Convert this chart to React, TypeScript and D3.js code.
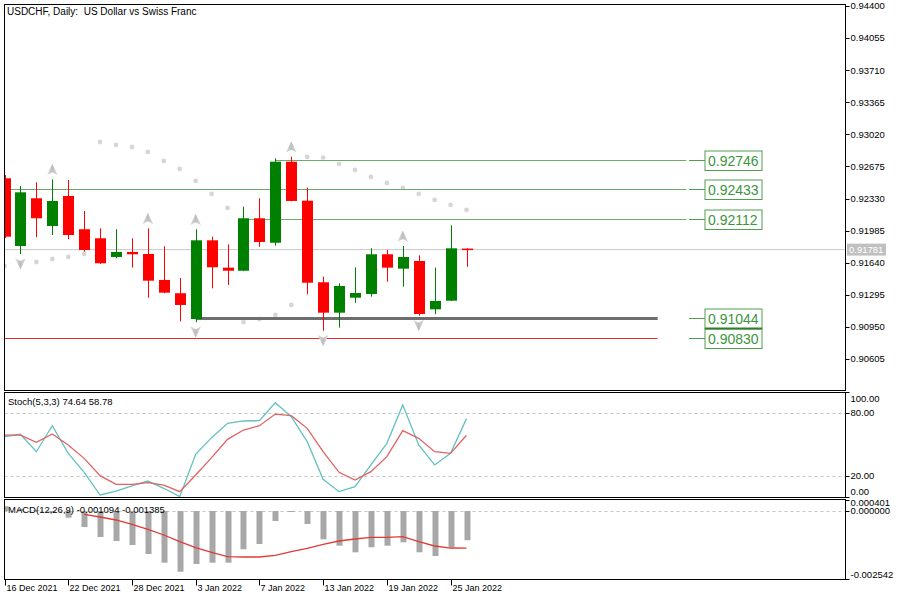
import React from 'react'
import * as d3 from 'd3'

// daily bars, USDCHF
const dates = ['2021-12-16', '2021-12-17', '2021-12-20', '2021-12-21', '2021-12-22', '2021-12-23', '2021-12-24', '2021-12-27', '2021-12-28', '2021-12-29', '2021-12-30', '2021-12-31', '2022-01-03', '2022-01-04', '2022-01-05', '2022-01-06', '2022-01-07', '2022-01-10', '2022-01-11', '2022-01-12', '2022-01-13', '2022-01-14', '2022-01-17', '2022-01-18', '2022-01-19', '2022-01-20', '2022-01-21', '2022-01-24', '2022-01-25', '2022-01-26']
const open = [0.92548, 0.9182, 0.92333, 0.92035, 0.92358, 0.92, 0.91903, 0.91702, 0.91756, 0.91734, 0.91455, 0.91312, 0.91035, 0.91881, 0.91587, 0.91554, 0.92118, 0.91855, 0.92726, 0.92307, 0.9143, 0.91103, 0.91264, 0.91304, 0.91731, 0.91576, 0.91659, 0.91139, 0.91232, 0.91792]
const high = [0.92583, 0.92465, 0.92505, 0.92537, 0.9253, 0.92196, 0.9201, 0.92, 0.91903, 0.9201, 0.91817, 0.91476, 0.92, 0.9192, 0.91838, 0.92242, 0.92333, 0.92763, 0.9278, 0.92447, 0.9149, 0.91419, 0.91591, 0.91795, 0.91777, 0.9182, 0.9172, 0.91587, 0.92042, 0.91795]
const low = [0.91906, 0.91734, 0.91914, 0.91938, 0.91892, 0.91759, 0.91628, 0.91688, 0.91587, 0.91264, 0.91312, 0.9101, 0.91, 0.91365, 0.91401, 0.9155, 0.91812, 0.91823, 0.923, 0.91301, 0.90909, 0.90942, 0.9121, 0.91275, 0.91436, 0.91382, 0.91071, 0.91086, 0.91229, 0.91597]
const close = [0.9192, 0.92397, 0.92118, 0.92304, 0.91938, 0.91777, 0.91634, 0.91756, 0.91731, 0.91447, 0.91318, 0.91186, 0.91881, 0.91591, 0.91554, 0.92118, 0.91863, 0.92726, 0.92304, 0.91425, 0.91103, 0.9139, 0.91315, 0.91731, 0.91587, 0.91702, 0.91089, 0.91229, 0.91795, 0.91781]
const sar = [0.91605, 0.91627, 0.91648, 0.9168, 0.91702, 0.91734, 0.92938, 0.92906, 0.92884, 0.92831, 0.92734, 0.92648, 0.92519, 0.92379, 0.92229, 0.91003, 0.91035, 0.91078, 0.91186, 0.92777, 0.9277, 0.92702, 0.92637, 0.92562, 0.92497, 0.92444, 0.92379, 0.92315, 0.92261, 0.92207]
const fractalUp = ['2021-12-21', '2021-12-29', '2022-01-03', '2022-01-11', '2022-01-20']
const fractalDown = ['2021-12-17', '2022-01-03', '2022-01-13', '2022-01-21']

const stochK = [57.4, 59.7, 43.1, 67.9, 41.6, 23.5, 1.9, 5.7, 10.5, 15.2, 8.3, 0.3, 40.6, 56.5, 70.2, 72.4, 72.7, 89.8, 76.5, 52.7, 16.8, 5.1, 9.8, 30.5, 51.1, 87.6, 49.5, 30.5, 41.6, 74.64]
const stochD = [59.0, 59.0, 52.1, 60.0, 49.5, 36.8, 20.3, 12.1, 12.1, 13.7, 11.4, 5.1, 21.0, 37.5, 54.9, 63.8, 67.9, 79.0, 77.5, 65.4, 43.2, 23.5, 16.2, 24.1, 38.4, 63.2, 55.9, 43.2, 41.6, 58.78]

const macdHist = [0.00018, 0.00008, 0.00003, -0.00006, -0.00025, -0.000599, -0.000972, -0.001122, -0.001271, -0.001608, -0.001932, -0.002269, -0.001981, -0.001932, -0.001932, -0.001432, -0.001234, -0.000374, -0.000026, -0.000486, -0.001058, -0.001297, -0.001544, -0.001357, -0.001297, -0.00117, -0.001544, -0.001682, -0.001357, -0.001094]
const macdSignal = [null, null, null, null, null, -0.000124, -0.000224, -0.000336, -0.000499, -0.000685, -0.000897, -0.001146, -0.00137, -0.001544, -0.001707, -0.00172, -0.00172, -0.001657, -0.00152, -0.001396, -0.001246, -0.001122, -0.001047, -0.000984, -0.000984, -0.000959, -0.001146, -0.001308, -0.001384, -0.001385]

const priceTicks = [0.944, 0.94055, 0.9371, 0.93365, 0.9302, 0.92675, 0.9233, 0.91985, 0.9164, 0.91295, 0.9095, 0.90605]
const stochTicks = [100, 80, 20, 0]
const stochLevels = [80, 20]
const macdTicks = [0.000401, 0, -0.002542]

// horizontal levels: price, first bar, last bar (bars past the end are future time)
const levelPrices = [0.92746, 0.92433, 0.92112, 0.91044, 0.9083]
const levelFrom = ['2022-01-10', '2021-12-16', '2022-01-06', '2022-01-03', '2021-12-16']
const levelTo = [42.8, 42.8, 42.8, 41, 41]
const currentPrice = 0.91781

const W = 902
const H = 606
const font = '"Liberation Sans", Arial, sans-serif'
const main = { left: 4.5, right: 845.5, top: 4.5, bottom: 390.5 }
const stoch = { top: 392.5, bottom: 497.5 }
const macd = { top: 499.5, bottom: 579.5 }

const levelStroke = ['#6aae6a', '#6aae6a', '#6aae6a', '#6e6e6e', '#e0312f']
const levelWidth = [1, 1, 1, 3, 1]

export default function App() {
  const idx = (d: string) => dates.indexOf(d)
  const x = d3.scaleLinear().domain([0, dates.length - 1]).range([4.5, 466.5])
  const y = d3.scaleLinear().domain([0.90605, 0.944]).range([359, 6])
  const ys = d3.scaleLinear().domain([0, 100]).range([stoch.bottom - 0.5, stoch.top - 0.5])
  const ym = d3.scaleLinear().domain([-0.002542, 0]).range([579, 511])
  const parse = d3.timeParse('%Y-%m-%d')
  const fmt = d3.timeFormat('%-d %b %Y')

  const kLine = d3.line<number>().x((_, i) => x(i)).y((d) => ys(d))
  const sigLine = d3.line<number | null>()
    .defined((d) => d !== null)
    .x((_, i) => x(i)).y((d) => ym(d as number))

  const upArrow = (cx: number, cy: number) => `M${cx},${cy - 6.5}L${cx + 5.5},${cy + 5}L${cx},${cy + 2}L${cx - 5.5},${cy + 5}Z`
  const downArrow = (cx: number, cy: number) => `M${cx},${cy + 6.5}L${cx + 5.5},${cy - 5}L${cx},${cy - 2}L${cx - 5.5},${cy - 5}Z`

  const lblBoxX = 705
  const lblBoxW = 57

  return (
    <svg width={W} height={H} style={{ position: 'absolute', left: 0, top: 0, background: '#fff' }} fontFamily={font}>
      <defs>
        <clipPath id="cMain"><rect x={main.left} y={main.top} width={main.right - main.left} height={main.bottom - main.top} /></clipPath>
        <clipPath id="cStoch"><rect x={main.left} y={stoch.top} width={main.right - main.left} height={stoch.bottom - stoch.top} /></clipPath>
        <clipPath id="cMacd"><rect x={main.left} y={macd.top} width={main.right - main.left} height={macd.bottom - macd.top} /></clipPath>
        <linearGradient id="arrowGrad" x1="0" y1="0" x2="1" y2="0">
          <stop offset="0" stopColor="#e4e4e4" />
          <stop offset="0.5" stopColor="#bdbdbd" />
          <stop offset="1" stopColor="#e0e0e0" />
        </linearGradient>
      </defs>
      <rect width={W} height={H} fill="#fff" />

      {/* ---------- main price panel ---------- */}
      <g clipPath="url(#cMain)">
        {/* current price line */}
        <line x1={main.left} x2={main.right} y1={y(currentPrice)} y2={y(currentPrice)} stroke="#c8c8c8" />
        {/* parabolic sar */}
        {sar.map((s, i) => (
          <circle key={'s' + i} cx={x(i)} cy={y(s)} r={2.4} fill="#d6d6d6" />
        ))}
        {/* levels */}
        {levelPrices.map((p, i) => (
          <line key={'l' + i} x1={x(idx(levelFrom[i]))} x2={x(levelTo[i])} y1={Math.round(y(p)) + 0.5} y2={Math.round(y(p)) + 0.5}
            stroke={levelStroke[i]} strokeWidth={levelWidth[i]} />
        ))}
        {/* candles */}
        {dates.map((d, i) => {
          const up = close[i] >= open[i]
          const c = up ? '#008000' : '#ff0000'
          const cx = Math.round(x(i)) + 0.5
          const top = y(Math.max(open[i], close[i]))
          const bot = y(Math.min(open[i], close[i]))
          return (
            <g key={d}>
              <line x1={cx} x2={cx} y1={y(high[i])} y2={y(low[i])} stroke={c} />
              <rect x={cx - 5.5} y={top} width={11} height={Math.max(1.5, bot - top)} fill={c} />
            </g>
          )
        })}
        {/* fractals */}
        {fractalUp.map((d) => (
          <path key={'fu' + d} d={upArrow(x(idx(d)), y(high[idx(d)]) - 9)} fill="url(#arrowGrad)" />
        ))}
        {fractalDown.map((d) => (
          <path key={'fd' + d} d={downArrow(x(idx(d)), y(low[idx(d)]) + 9)} fill="url(#arrowGrad)" />
        ))}
      </g>

      {/* level labels */}
      {levelPrices.map((p, i) => {
        const ly = Math.round(y(p)) + 0.5
        return (
          <g key={'lb' + i}>
            <line x1={689} x2={lblBoxX} y1={ly} y2={ly} stroke="#4f9f4f" />
            <rect x={lblBoxX} y={ly - 9.5} width={lblBoxW} height={19.5} fill="#fff" stroke="#4f9f4f" />
            <text x={lblBoxX + 3} y={ly + 5} fontSize={14} fill="#3d953d">{d3.format('.5f')(p)}</text>
          </g>
        )
      })}
      <line x1={lblBoxX} x2={lblBoxX + lblBoxW} y1={Math.round(y(levelPrices[3])) + 10.5} y2={Math.round(y(levelPrices[3])) + 10.5} stroke="#2f7d2f" strokeWidth={2} />

      <rect x={main.left} y={main.top} width={main.right - main.left} height={main.bottom - main.top} fill="none" stroke="#000" />
      <text x={7} y={15} fontSize={10} fill="#000" style={{ whiteSpace: 'pre' }}>USDCHF, Daily:  US Dollar vs Swiss Franc</text>

      {/* price axis */}
      {priceTicks.map((t) => (
        <g key={'pt' + t}>
          <line x1={main.right} x2={main.right + 4} y1={Math.round(y(t)) + 0.5} y2={Math.round(y(t)) + 0.5} stroke="#000" />
          <text x={main.right + 5} y={y(t)} dy="0.35em" fontSize={9.5} fill="#000">{d3.format('.5f')(t)}</text>
        </g>
      ))}
      <rect x={847} y={y(currentPrice) - 6} width={39} height={12} fill="#c0c0c0" />
      <text x={849} y={y(currentPrice)} dy="0.35em" fontSize={9.5} fill="#fff">{d3.format('.5f')(currentPrice)}</text>

      {/* ---------- stochastic ---------- */}
      <g clipPath="url(#cStoch)">
        {stochLevels.map((l) => (
          <line key={'sl' + l} x1={main.left} x2={main.right} y1={Math.round(ys(l)) + 0.5} y2={Math.round(ys(l)) + 0.5} stroke="#c4c4c4" strokeDasharray="3,3" />
        ))}
        <path d={kLine(stochK) || ''} fill="none" stroke="#62c2c2" strokeWidth={1.3} />
        <path d={kLine(stochD) || ''} fill="none" stroke="#e06262" strokeWidth={1.3} />
      </g>
      <rect x={main.left} y={stoch.top} width={main.right - main.left} height={stoch.bottom - stoch.top} fill="none" stroke="#000" />
      <text x={8} y={402} dy="0.35em" fontSize={9.5} fill="#000">{`Stoch(5,3,3) ${stochK[stochK.length - 1].toFixed(2)} ${stochD[stochD.length - 1].toFixed(2)}`}</text>
      {stochTicks.map((t) => {
        const ty = ys(t)
        const ly = Math.min(Math.max(ty, stoch.top + 6), stoch.bottom - 6)
        return (
          <g key={'st' + t}>
            <line x1={main.right} x2={main.right + 4} y1={Math.round(ty) + 0.5} y2={Math.round(ty) + 0.5} stroke="#000" />
            <text x={main.right + 5} y={ly} dy="0.35em" fontSize={9.5} fill="#000">{t.toFixed(2)}</text>
          </g>
        )
      })}

      {/* ---------- MACD ---------- */}
      <g clipPath="url(#cMacd)">
        <line x1={main.left} x2={main.right} y1={Math.round(ym(0)) + 0.5} y2={Math.round(ym(0)) + 0.5} stroke="#c4c4c4" strokeDasharray="3,3" />
        {macdHist.map((v, i) => (
          <rect key={'h' + i} x={Math.round(x(i)) - 2.5} y={Math.min(ym(v), ym(0))} width={6} height={Math.max(1, Math.abs(ym(v) - ym(0)))} fill="#a8a8a8" />
        ))}
        <path d={sigLine(macdSignal) || ''} fill="none" stroke="#e23a36" strokeWidth={1.3} />
      </g>
      <rect x={main.left} y={macd.top} width={main.right - main.left} height={macd.bottom - macd.top} fill="none" stroke="#000" />
      <text x={8} y={510} dy="0.35em" fontSize={9.5} fill="#000">{`MACD(12,26,9) ${macdHist[macdHist.length - 1].toFixed(6)} ${(macdSignal[macdSignal.length - 1] as number).toFixed(6)}`}</text>
      {macdTicks.map((t) => {
        const ty = ym(t)
        const ly = Math.min(Math.max(ty, macd.top + 3.5), macd.bottom - 4.5)
        return (
          <g key={'mt' + t}>
            <line x1={main.right} x2={main.right + 4} y1={Math.round(ty) + 0.5} y2={Math.round(ty) + 0.5} stroke="#000" />
            <text x={main.right + 5} y={ly} dy="0.35em" fontSize={9.5} fill="#000">{t.toFixed(6)}</text>
          </g>
        )
      })}

      {/* ---------- time axis ---------- */}
      {dates.map((d, i) => (i % 4 === 0 ? (
        <g key={'dt' + d}>
          <line x1={Math.round(x(i)) + 0.5} x2={Math.round(x(i)) + 0.5} y1={macd.bottom} y2={macd.bottom + 6} stroke="#000" />
          <text x={Math.round(x(i)) + 1.5} y={588} dy="0.35em" fontSize={9} fill="#000">{fmt(parse(d) as Date)}</text>
        </g>
      ) : null))}
    </svg>
  )
}
